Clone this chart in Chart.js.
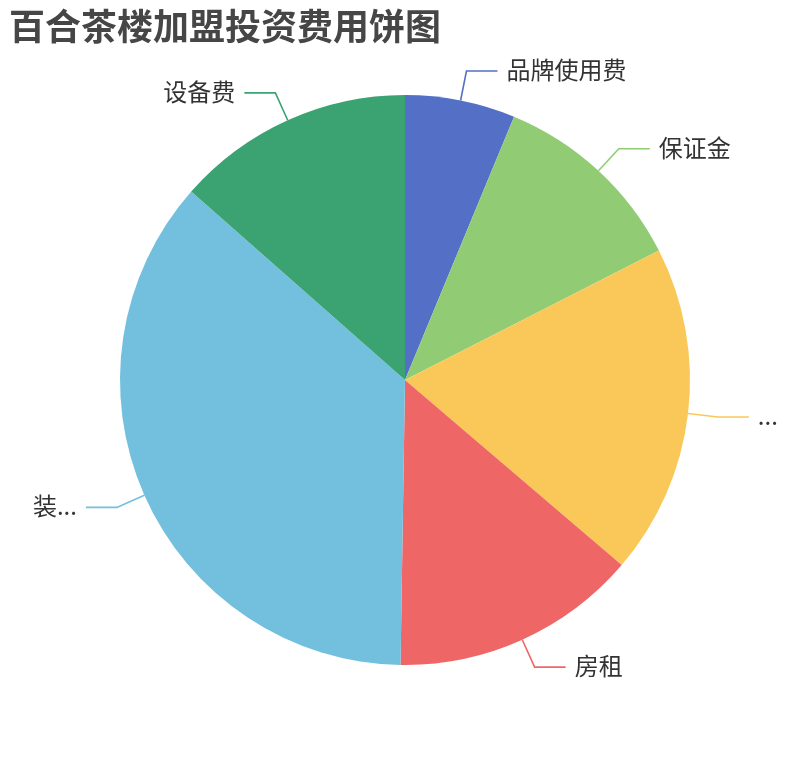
<!DOCTYPE html>
<html>
<head>
<meta charset="utf-8">
<script src="https://cdn.jsdelivr.net/npm/chart.js"></script>
<style>
html, body { margin: 0; padding: 0; background: #fff; }
#wrap { width: 810px; height: 760px; }
</style>
</head>
<body>
<div id="wrap"><canvas id="graficoPizza"></canvas></div>
<script>
// dados
const titulo = "百合茶楼加盟投资费用饼图";
const categorias = ["品牌使用费", "保证金", "...", "房租", "装...", "设备费"];
const valores = [2.5, 4.5, 7.5, 5.6, 14.5, 5.4];
const cores = ["#5470c6", "#91cc75", "#fac858", "#ee6666", "#73c0de", "#3ba272"];

const fonteCJK = '"Noto Sans CJK SC", "Noto Sans", sans-serif';

// =============================
// TITULO + ROTULOS COM LINHA
// =============================
const rotulosPlugin = {
  id: "rotulos",
  afterDatasetsDraw(chart) {
    const ctx = chart.ctx;
    const meta = chart.getDatasetMeta(0);

    ctx.save();
    meta.data.forEach((arc, i) => {
      const p = arc.getProps(["x", "y", "startAngle", "endAngle", "outerRadius"], true);
      const meio = (p.startAngle + p.endAngle) / 2;
      const cos = Math.cos(meio), sin = Math.sin(meio);
      const x0 = p.x + cos * p.outerRadius;
      const y0 = p.y + sin * p.outerRadius;
      const x1 = p.x + cos * (p.outerRadius + 30);
      const y1 = p.y + sin * (p.outerRadius + 30);
      const dir = cos >= 0 ? 1 : -1;
      const x2 = x1 + dir * 31;

      ctx.strokeStyle = cores[i];
      ctx.lineWidth = 1.6;
      ctx.beginPath();
      ctx.moveTo(x0, y0);
      ctx.lineTo(x1, y1);
      ctx.lineTo(x2, y1);
      ctx.stroke();

      ctx.fillStyle = "#333";
      ctx.font = "24px " + fonteCJK;
      ctx.textBaseline = "middle";
      ctx.textAlign = dir > 0 ? "left" : "right";
      ctx.fillText(categorias[i], x2 + dir * 9, y1 - 1);
    });

    ctx.fillStyle = "#464646";
    ctx.font = "bold 36px " + fonteCJK;
    ctx.textAlign = "left";
    ctx.textBaseline = "middle";
    ctx.fillText(titulo, 9, 26);
    ctx.restore();
  }
};

const ctx = document.getElementById("graficoPizza").getContext("2d");

new Chart(ctx, {
  type: "pie",
  data: {
    labels: categorias,
    datasets: [{
      data: valores,
      backgroundColor: cores,
      borderWidth: 0,
      hoverOffset: 0,
      offset: 0
    }]
  },
  options: {
    responsive: true,
    maintainAspectRatio: false,
    animation: false,
    events: [],
    layout: {
      padding: { top: 95, bottom: 95, left: 120, right: 120 }
    },
    plugins: {
      legend: { display: false },
      title: { display: false },
      tooltip: { enabled: false }
    }
  },
  plugins: [rotulosPlugin]
});
</script>
</body>
</html>
